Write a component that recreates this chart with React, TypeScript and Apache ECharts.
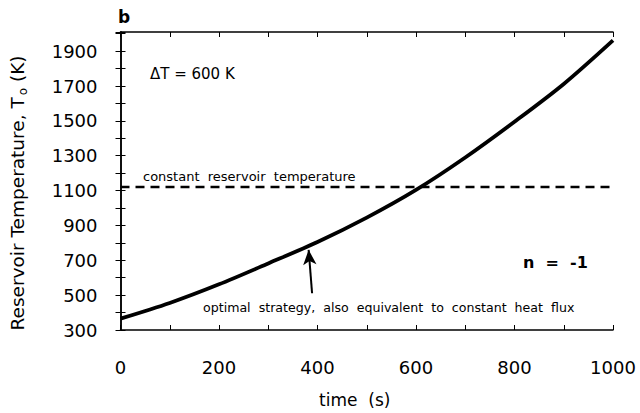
import React, { useEffect, useRef } from "react";
import * as echarts from "echarts";

const times = [0, 100, 200, 300, 400, 500, 600, 700, 800, 900, 1000];
const optimalTemp = [365, 455, 562, 682, 805, 945, 1104, 1290, 1495, 1712, 1962];
const constTempX = [0, 1000];
const constTempY = [1120, 1120];
const xTickLabels = [0, 200, 400, 600, 800, 1000];
const yTickLabels = [300, 500, 700, 900, 1100, 1300, 1500, 1700, 1900];
const arrowFrom = [389, 511];
const arrowTo = [382, 760];

const FONT = "DejaVu Sans";

export default function App() {
  const ref = useRef<HTMLDivElement>(null);
  useEffect(() => {
    if (!ref.current) return;
    const chart = echarts.init(ref.current, null, { renderer: "svg" });
    const lineData = times.map((t, i) => [t, optimalTemp[i]]);
    const dashData = constTempX.map((t, i) => [t, constTempY[i]]);
    const axisLine = { show: true, lineStyle: { color: "#000", width: 1.5 } };
    const tick = { show: true, inside: true, length: 5, lineStyle: { color: "#000", width: 1 } };
    chart.setOption({
      animation: false,
      backgroundColor: "#fff",
      grid: { left: 119.5, right: 27, top: 32, bottom: 75, show: false },
      xAxis: [
        {
          type: "value",
          min: 0,
          max: 1000,
          interval: 100,
          axisLine,
          axisTick: tick,
          splitLine: { show: false },
          axisLabel: {
            margin: 28,
            color: "#000",
            fontFamily: FONT,
            fontSize: 18,
            formatter: (v: number) => (xTickLabels.includes(v) ? String(v) : ""),
          },
          name: "time  (s)",
          nameLocation: "middle",
          nameGap: 61,
          nameTextStyle: { color: "#000", fontFamily: FONT, fontSize: 17, padding: [0, 24, 0, 0] },
        },
        {
          type: "value",
          position: "top",
          min: 0,
          max: 1000,
          interval: 100,
          axisLine,
          axisTick: tick,
          splitLine: { show: false },
          axisLabel: { show: false },
        },
      ],
      yAxis: [
        {
          type: "value",
          min: 300,
          max: 2010,
          interval: 100,
          axisLine,
          axisTick: tick,
          splitLine: { show: false },
          axisLabel: {
            margin: 23,
            color: "#000",
            fontFamily: FONT,
            fontSize: 18,
            formatter: (v: number) => (yTickLabels.includes(v) ? String(v) : ""),
          },
          name: "{a|Reservoir Temperature, T}{s|o}{a| (K)}",
          nameLocation: "middle",
          nameGap: 92,
          nameTextStyle: {
            padding: [0, 24, 0, 0],
            rich: {
              a: { color: "#000", fontFamily: FONT, fontSize: 18.5 },
              s: { color: "#000", fontFamily: FONT, fontSize: 12, padding: [10, 0, 0, 2] },
            },
          },
        },
        {
          type: "value",
          position: "right",
          min: 300,
          max: 2010,
          interval: 100,
          axisLine,
          axisTick: tick,
          splitLine: { show: false },
          axisLabel: { show: false },
        },
      ],
      series: [
        {
          type: "line",
          data: dashData,
          showSymbol: false,
          lineStyle: { color: "#000", width: 2.5, type: [9, 6] },
          silent: true,
        },
        {
          type: "line",
          data: lineData,
          smooth: 0.3,
          showSymbol: false,
          lineStyle: { color: "#000", width: 3.8 },
          silent: true,
          markLine: {
            silent: true,
            symbol: ["none", "arrow"],
            symbolSize: [10, 15],
            label: { show: false },
            lineStyle: { color: "#000", width: 2, type: "solid" },
            data: [[{ coord: arrowFrom }, { coord: arrowTo }]],
          },
        },
      ],
      graphic: [
        {
          type: "text",
          left: 118,
          top: 8,
          style: { text: "b", fill: "#000", font: `bold 17px ${FONT}` },
        },
        {
          type: "text",
          left: 150,
          top: 66,
          style: { text: "ΔT = 600 K", fill: "#000", font: `15px ${FONT}` },
        },
        {
          type: "text",
          left: 143,
          top: 170,
          style: { text: "constant  reservoir  temperature", fill: "#000", font: `13px ${FONT}` },
        },
        {
          type: "text",
          left: 203,
          top: 301,
          style: {
            text: "optimal  strategy,  also  equivalent  to  constant  heat  flux",
            fill: "#000",
            font: `12.6px ${FONT}`,
          },
        },
        {
          type: "text",
          left: 523,
          top: 254,
          style: { text: "n  =  -1", fill: "#000", font: `bold 16px ${FONT}` },
        },
      ],
    });
    return () => chart.dispose();
  }, []);
  return (
    <div
      ref={ref}
      style={{ position: "absolute", left: 0, top: 0, width: 640, height: 413 }}
    />
  );
}
